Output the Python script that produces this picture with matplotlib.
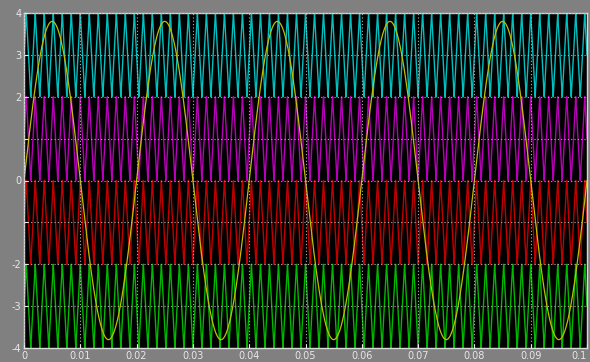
import numpy as np
import matplotlib
matplotlib.use("Agg")
import matplotlib.pyplot as plt

# Signal parameters
t_end = 0.1
sine_amp = 3.8
sine_freq = 50
carrier_freq = 625
band_lows = [2, 0, -2, -4]
band_colors = ["#00c0c0", "#b800b8", "#c00000", "#00b800"]
sine_color = "#c0c000"

x_ticks = [0, 0.01, 0.02, 0.03, 0.04, 0.05, 0.06, 0.07, 0.08, 0.09, 0.1]
x_labels = ["0", "0.01", "0.02", "0.03", "0.04", "0.05", "0.06", "0.07", "0.08", "0.09", "0.1"]
y_ticks = [-4, -3, -2, -1, 0, 1, 2, 3, 4]
y_labels = ["-4", "-3", "-2", "", "0", "", "2", "3", "4"]

t = np.linspace(0, t_end, 40001)
tri = (2 / np.pi) * np.arcsin(np.sin(2 * np.pi * carrier_freq * t))
ref = sine_amp * np.sin(2 * np.pi * sine_freq * t)

fig = plt.figure(figsize=(5.9, 3.62), dpi=100, facecolor="#808080")
ax = fig.add_axes([24 / 590, 14 / 362, 563 / 590, 335 / 362])
ax.set_facecolor("black")

for low, col in zip(band_lows, band_colors):
    ax.plot(t, low + 1 + tri, color=col, lw=1.0)

ax.plot(t, ref, color=sine_color, lw=0.9)

ax.set_xlim(0, t_end)
ax.set_ylim(-4, 4)
ax.set_xticks(x_ticks)
ax.set_xticklabels(x_labels)
ax.set_yticks(y_ticks)
ax.set_yticklabels(y_labels)
ax.tick_params(colors="#e8e8e8", labelsize=7, length=3, direction="in", pad=2)
ax.get_xticklabels()[-1].set_horizontalalignment("right")
ax.grid(True, color="#b0b0b0", linestyle=(0, (1, 2)), linewidth=0.8)
ax.set_axisbelow(False)
for s in ax.spines.values():
    s.set_color("#d8d8d8")
    s.set_linewidth(1)

fig.savefig("out.png", dpi=100, facecolor=fig.get_facecolor())
